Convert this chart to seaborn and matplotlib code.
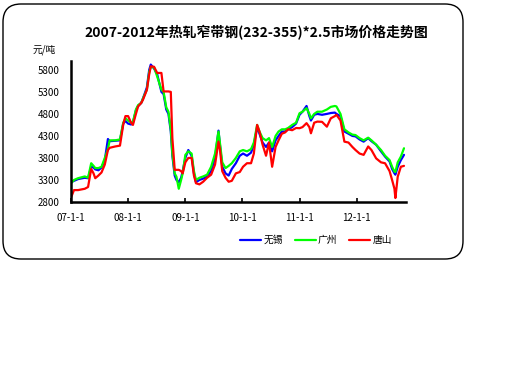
import matplotlib
matplotlib.use("Agg")
import matplotlib.pyplot as plt
import seaborn as sns
import pandas as pd
from matplotlib.patches import FancyBboxPatch
from matplotlib.lines import Line2D

sns.set_style("white")
plt.rcParams['font.family'] = ['Noto Sans CJK SC', 'DejaVu Sans']
plt.rcParams['text.color'] = 'black'
plt.rcParams['xtick.color'] = 'black'
plt.rcParams['ytick.color'] = 'black'

title = "2007-2012年热轧窄带钢(232-355)*2.5市场价格走势图"
unit = "元/吨"
cities = ["无锡", "广州", "唐山"]
colors = ["#0000ff", "#00ff00", "#ff0000"]

dates = ["2007-01-01", "2007-01-20", "2007-02-15", "2007-03-30", "2007-04-20", "2007-05-10",
         "2007-05-25", "2007-06-05", "2007-06-25", "2007-07-15", "2007-08-05", "2007-08-25",
         "2007-09-05", "2007-10-10", "2007-11-10", "2007-12-01", "2007-12-15", "2008-01-01",
         "2008-01-20", "2008-02-01", "2008-02-20", "2008-03-05", "2008-03-25", "2008-04-05",
         "2008-04-30", "2008-05-15", "2008-05-25", "2008-06-15", "2008-07-05", "2008-08-01",
         "2008-08-15", "2008-09-01", "2008-09-15", "2008-09-30", "2008-10-10", "2008-10-25",
         "2008-11-05", "2008-11-20", "2008-12-05", "2008-12-15", "2009-01-01", "2009-01-20",
         "2009-02-10", "2009-02-25", "2009-03-10", "2009-04-01", "2009-04-25", "2009-05-20",
         "2009-06-15", "2009-07-10", "2009-08-01", "2009-08-10", "2009-08-25", "2009-09-15",
         "2009-10-05", "2009-10-25", "2009-11-20", "2009-12-15", "2010-01-05", "2010-01-30",
         "2010-02-25", "2010-03-15", "2010-04-05", "2010-04-20", "2010-05-10", "2010-06-01",
         "2010-06-20", "2010-07-10", "2010-08-01", "2010-08-20", "2010-09-10", "2010-10-01",
         "2010-10-20", "2010-11-15", "2010-12-10", "2011-01-01", "2011-01-20", "2011-02-15",
         "2011-03-05", "2011-03-15", "2011-04-05", "2011-04-25", "2011-05-25", "2011-06-25",
         "2011-07-20", "2011-08-15", "2011-08-25", "2011-09-20", "2011-10-15", "2011-11-10",
         "2011-12-05", "2011-12-25", "2012-01-20", "2012-02-15", "2012-03-15", "2012-04-05",
         "2012-05-05", "2012-06-05", "2012-07-01", "2012-07-30", "2012-08-15", "2012-08-30",
         "2012-09-05", "2012-09-20", "2012-10-10", "2012-10-30"]

wuxi = [3250, 3280, 3320, 3350, 3340, 3600, 3580, 3540, 3520, 3580, 3750, 4230,
        4180, 4190, 4200, 4580, 4640, 4580, 4560, 4600, 4880, 4980, 5050, 5150,
        5400, 5800, 5920, 5830, 5700, 5300, 5250, 4900, 4800, 4400, 3850, 3400,
        3300, 3250, 3350, 3500, 3800, 3980, 3850, 3450, 3250, 3300, 3330, 3380,
        3500, 3800, 4420, 4100, 3600, 3450, 3400, 3550, 3680, 3850, 3900, 3850,
        3920, 4100, 4500, 4350, 4150, 4050, 4150, 3950, 4200, 4300, 4400, 4400,
        4450, 4500, 4580, 4780, 4850, 4980, 4750, 4650, 4780, 4800, 4780, 4800,
        4820, 4830, 4800, 4750, 4400, 4350, 4300, 4290, 4220, 4170, 4250, 4180,
        4100, 3950, 3830, 3720, 3550, 3450, 3420, 3600, 3750, 3870]

guangzhou = [3225, 3300, 3340, 3380, 3350, 3680, 3620, 3570, 3570, 3600, 3800, 4000,
             4200, 4200, 4220, 4600, 4700, 4650, 4600, 4620, 4900, 5000, 5050, 5150,
             5350, 5750, 5860, 5860, 5650, 5350, 5300, 4950, 4850, 4450, 3900, 3450,
             3375, 3100, 3300, 3450, 3870, 3950, 3900, 3500, 3300, 3350, 3380, 3420,
             3600, 3900, 4400, 4150, 3700, 3570, 3620, 3680, 3800, 3950, 3980, 3950,
             4000, 4150, 4550, 4400, 4250, 4200, 4250, 4050, 4300, 4400, 4450, 4450,
             4480, 4550, 4600, 4815, 4850, 4930, 4800, 4700, 4800, 4850, 4850, 4900,
             4960, 4980, 4970, 4800, 4450, 4380, 4330, 4320, 4250, 4200, 4260, 4200,
             4100, 3980, 3850, 3750, 3600, 3490, 3480, 3700, 3830, 4020]

tangshan = [2900, 3070, 3070, 3100, 3140, 3550, 3450, 3340, 3400, 3470, 3650, 3980,
            4030, 4060, 4080, 4560, 4750, 4750, 4600, 4550, 4800, 4970, 5050, 5120,
            5345, 5700, 5880, 5870, 5730, 5730, 5310, 5310, 5310, 5300, 4250, 3530,
            3530, 3530, 3500, 3450, 3700, 3800, 3800, 3400, 3225, 3200, 3260, 3350,
            3420, 3650, 4170, 4000, 3500, 3350, 3260, 3280, 3450, 3480, 3600, 3680,
            3680, 3900, 4550, 4400, 4100, 3850, 4150, 3600, 4050, 4200, 4350, 4380,
            4450, 4430, 4480, 4475, 4500, 4590, 4500, 4360, 4600, 4625, 4620, 4510,
            4700, 4750, 4780, 4650, 4170, 4150, 4050, 3980, 3900, 3870, 4060, 3980,
            3790, 3700, 3680, 3500, 3300, 3100, 2890, 3375, 3600, 3620]

year_ticks = ["2007-01-01", "2008-01-01", "2009-01-01", "2010-01-01", "2011-01-01", "2012-01-01"]
year_labels = ["07-1-1", "08-1-1", "09-1-1", "10-1-1", "11-1-1", "12-1-1"]
yticks = [2800, 3300, 3800, 4300, 4800, 5300, 5800]

d = pd.to_datetime(dates)
df = pd.concat([
    pd.DataFrame({"date": d, "price": wuxi, "city": cities[0]}),
    pd.DataFrame({"date": d, "price": guangzhou, "city": cities[1]}),
    pd.DataFrame({"date": d, "price": tangshan, "city": cities[2]}),
])

fig = plt.figure(figsize=(5.12, 3.84), dpi=100)
ax = fig.add_axes([0.1387, 0.474, 0.793 - 0.1387, 0.841 - 0.474])

sns.lineplot(data=df, x="date", y="price", hue="city", hue_order=cities,
             palette=colors, linewidth=1.6, ax=ax, legend=False)

ax.set_xlim(pd.Timestamp("2007-01-01"), pd.Timestamp("2012-11-12"))
ax.set_ylim(2800, 6000)
ax.set_yticks(yticks)
ax.set_yticklabels([str(v) for v in yticks], fontsize=7)
ax.set_xticks(pd.to_datetime(year_ticks))
ax.set_xticklabels(year_labels, fontsize=7)
ax.tick_params(axis='x', direction='in', length=3, width=1.2, pad=8, bottom=True, colors='black')
ax.tick_params(axis='y', length=0, pad=8, colors='black')
ax.set_xlabel("")
ax.set_ylabel("")
for s in ["top", "right"]:
    ax.spines[s].set_visible(False)
for s in ["left", "bottom"]:
    ax.spines[s].set_color("black")
    ax.spines[s].set_linewidth(1.8)
ax.grid(False)

fig.text(256 / 512, 1 - 33 / 384, title, ha="center", va="center",
         fontsize=10, fontweight="bold", color="black")
fig.text(33 / 512, 1 - 50 / 384, unit, ha="left", va="center", fontsize=7, color="black")

handles = [Line2D([0], [0], color=c, lw=1.6) for c in colors]
fig.legend(handles, cities, loc="center", bbox_to_anchor=(316 / 512, 1 - 240 / 384),
           ncol=3, frameon=False, fontsize=7, handlelength=2.2, handletextpad=0.2,
           columnspacing=1.2, labelcolor="black")

border = FancyBboxPatch((0.03, 1.25), 4.6, 2.55,
                        boxstyle="round,pad=0,rounding_size=0.18",
                        transform=fig.dpi_scale_trans, fill=False,
                        edgecolor="black", linewidth=1.0)
fig.patches.append(border)

fig.savefig("out.png", dpi=100)
